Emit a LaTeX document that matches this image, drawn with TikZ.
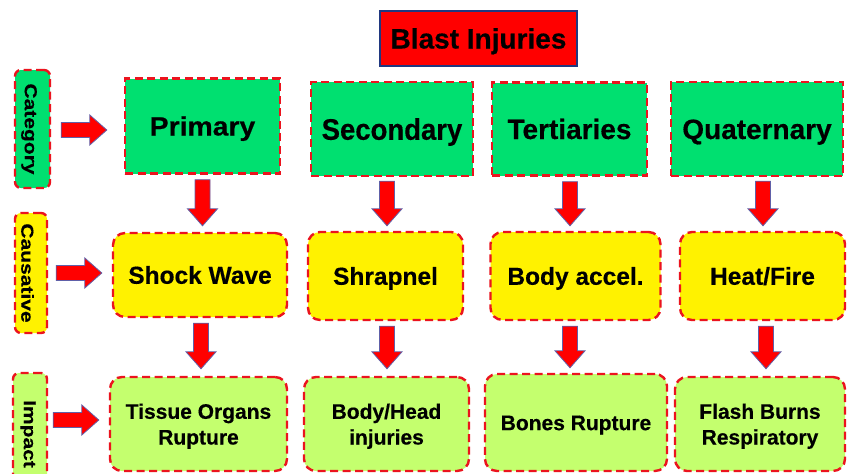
\documentclass[tikz,border=0pt]{standalone}
\usepackage{fontspec}
\usepackage{graphicx}
\setmainfont{Liberation Sans}[BoldFeatures={FakeBold=0.4}]
\usetikzlibrary{calc}
\definecolor{catgreen}{RGB}{0,224,112}
\definecolor{causyellow}{RGB}{255,242,0}
\definecolor{implime}{RGB}{196,255,110}
\definecolor{titlered}{RGB}{255,0,0}
\definecolor{titleblue}{RGB}{32,56,128}
\definecolor{arrowedge}{RGB}{96,96,168}
\definecolor{dashred}{RGB}{235,20,30}
\tikzset{
  base/.style={draw=dashred, line width=2.4pt, dash pattern=on 8pt off 4.5pt, text=black, inner sep=0pt},
  catbox/.style={base, fill=catgreen, font=\bfseries\fontsize{28}{32}\selectfont, text height=20pt, text depth=0pt},
  causbox/.style={base, fill=causyellow, rounded corners=12pt, font=\bfseries\fontsize{24.5}{28}\selectfont, text height=17.5pt, text depth=0pt},
  impbox/.style={base, fill=implime, rounded corners=12pt, font=\bfseries\fontsize{21}{25.7}\selectfont, text height=15.3pt, text depth=0pt},
  imptwo/.style={impbox, text height=15.3pt, text depth=25.7pt},
  labbox/.style={base, rounded corners=6pt, font=\bfseries\fontsize{21}{24}\selectfont},
  titlebox/.style={draw=titleblue, fill=titlered, line width=2pt, inner sep=0pt, font=\bfseries\fontsize{28}{32}\selectfont, text height=20pt, text depth=0pt},
  blockarrow/.style={fill=red, draw=arrowedge, line width=0.8pt, line join=miter},
}
\newcommand\blockarr[2]{%
  \coordinate (ba-h) at ($(#2)!17pt!(#1)$);
  \draw[blockarrow] ($(#1)!7.5pt!90:(#2)$) -- ($(ba-h)!7.5pt!90:(#2)$) -- ($(ba-h)!15pt!90:(#2)$) -- (#2)
    -- ($(ba-h)!15pt!-90:(#2)$) -- ($(ba-h)!7.5pt!-90:(#2)$) -- ($(#1)!7.5pt!-90:(#2)$) -- cycle;
}
\newcommand\twolines[2]{\begin{tabular}[t]{@{}c@{}}#1\\#2\end{tabular}}
\newcommand\vlabel[2]{\hspace*{#1}\rotatebox{-90}{\scalebox{1}[0.82]{#2}}}
\begin{document}
\begin{tikzpicture}[x=1pt,y=-1pt]
\useasboundingbox (0,0) rectangle (847,474);
\clip (0,0) rectangle (847,474);
\fill[white] (0,0) rectangle (847,474);

% title
\node[titlebox, minimum width=197pt, minimum height=55pt] (title) at (478.5,38.5) {Blast Injuries};

% row labels
\node[labbox, fill=catgreen, minimum width=35pt, minimum height=118pt] (lcat) at (32.5,129) {\vlabel{-7pt}{Category}};
\node[labbox, fill=causyellow, minimum width=32pt, minimum height=120pt] (lcaus) at (31,273) {\vlabel{-7pt}{Causative}};
\node[labbox, fill=implime, minimum width=34pt, minimum height=122pt] (limp) at (30,434) {\vlabel{-4pt}{Impact}};

% category row
\node[catbox, minimum width=155pt, minimum height=95pt, text height=19pt] (prim) at (202.5,126) {\scalebox{1.07}[1]{\fontsize{26.5}{30}\selectfont Primary}};
\node[catbox, minimum width=162pt, minimum height=94pt, text height=21.5pt] (sec) at (392,129) {\scalebox{1}[1.08]{\fontsize{27.5}{32}\selectfont Secondary}};
\node[catbox, minimum width=155pt, minimum height=93pt] (tert) at (569.5,129) {Tertiaries};
\node[catbox, minimum width=172pt, minimum height=94pt] (quat) at (757,129) {Quaternary};

% causative row
\node[causbox, minimum width=174pt, minimum height=84pt] (shock) at (200,275) {Shock Wave};
\node[causbox, minimum width=155pt, minimum height=88pt] (shrap) at (385.5,276) {Shrapnel};
\node[causbox, minimum width=170pt, minimum height=88pt] (body) at (575.5,276) {Body accel.};
\node[causbox, minimum width=165pt, minimum height=88pt] (heat) at (762.5,276) {Heat/Fire};

% impact row
\node[imptwo, minimum width=177pt, minimum height=94pt] (tissue) at (198.5,424) {\twolines{Tissue Organs}{Rupture}};
\node[imptwo, minimum width=165pt, minimum height=94pt] (head) at (386.5,424) {\twolines{Body/Head}{injuries}};
\node[impbox, minimum width=182pt, minimum height=97pt] (bones) at (576,422.5) {Bones Rupture};
\node[imptwo, minimum width=170pt, minimum height=94pt] (flash) at (760,424) {\twolines{Flash Burns}{Respiratory}};

% horizontal arrows
\coordinate (h1s) at ($(lcat.east)+(10,1)$);
\coordinate (h1e) at ($(prim.west |- h1s)+(-17,0)$);
\blockarr{h1s}{h1e}
\coordinate (h2s) at ($(lcaus.east)+(8,0)$);
\coordinate (h2e) at ($(shock.west |- h2s)+(-10,0)$);
\blockarr{h2s}{h2e}
\coordinate (h3s) at ($(limp.east)+(5,-14)$);
\coordinate (h3e) at ($(tissue.west |- h3s)+(-10,0)$);
\blockarr{h3s}{h3e}

% vertical arrows, category -> causative
\coordinate (v1s) at ($(prim.south)+(0,5)$);
\coordinate (v1e) at ($(v1s |- shock.north)+(0,-6)$);
\blockarr{v1s}{v1e}
\coordinate (v2s) at ($(sec.south)+(-5,4)$);
\coordinate (v2e) at ($(v2s |- shrap.north)+(0,-5)$);
\blockarr{v2s}{v2e}
\coordinate (v3s) at ($(tert.south)+(0.5,5)$);
\coordinate (v3e) at ($(v3s |- body.north)+(0,-5)$);
\blockarr{v3s}{v3e}
\coordinate (v4s) at ($(quat.south)+(6,4)$);
\coordinate (v4e) at ($(v4s |- heat.north)+(0,-5)$);
\blockarr{v4s}{v4e}

% vertical arrows, causative -> impact
\coordinate (w1s) at ($(shock.south)+(1,5)$);
\coordinate (w1e) at ($(w1s |- tissue.north)+(0,-7)$);
\blockarr{w1s}{w1e}
\coordinate (w2s) at ($(shrap.south)+(1.5,5)$);
\coordinate (w2e) at ($(w2s |- head.north)+(0,-7)$);
\blockarr{w2s}{w2e}
\coordinate (w3s) at ($(body.south)+(-5.5,5)$);
\coordinate (w3e) at ($(w3s |- bones.north)+(0,-5)$);
\blockarr{w3s}{w3e}
\coordinate (w4s) at ($(heat.south)+(3.5,5)$);
\coordinate (w4e) at ($(w4s |- flash.north)+(0,-7)$);
\blockarr{w4s}{w4e}
\end{tikzpicture}
\end{document}
